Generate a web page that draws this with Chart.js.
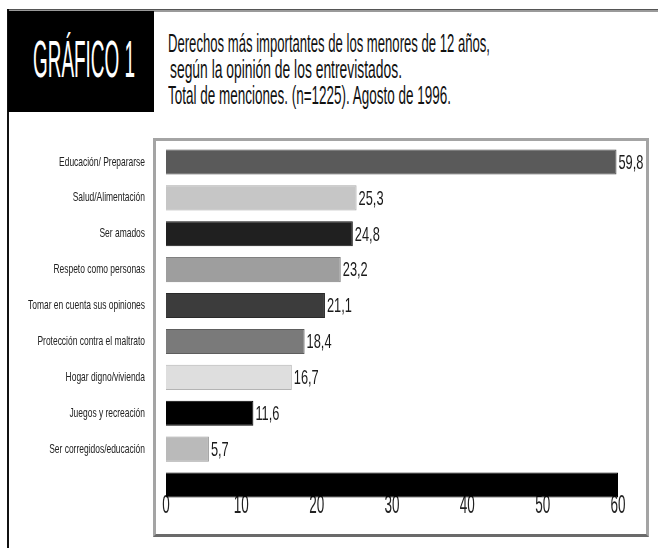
<!DOCTYPE html>
<html><head><meta charset="utf-8">
<script src="https://cdn.jsdelivr.net/npm/chart.js@4.4.1/dist/chart.umd.min.js"></script>
<style>
html,body{margin:0;padding:0;background:#fff;}
body{width:658px;height:548px;position:relative;overflow:hidden;font-family:'Liberation Sans',sans-serif;}
.abs{position:absolute;}
#topline{left:8px;top:9px;width:650px;height:3px;background:#9a9a9a;border-top:1px solid #555;box-sizing:border-box;}
#leftline{left:7px;top:9px;width:2px;height:539px;background:#111;}
#hbox{left:8px;top:11px;width:146px;height:101px;background:#000;}
#frame{left:153px;top:138px;width:496px;height:399px;box-sizing:border-box;border:3px solid #a4a4a4;border-bottom-color:#6a6a6a;}
.t{position:absolute;white-space:nowrap;transform-origin:0 0;line-height:1;color:#111;}
#wrap{position:absolute;left:0;top:0;width:658px;height:548px;}
</style></head><body>
<div id="topline" class="abs"></div>
<div id="leftline" class="abs"></div>
<div id="hbox" class="abs"></div>
<div id="frame" class="abs"></div>
<div class="t" id="h0" style="color:#fff;font-size:51px;">GRÁFICO 1</div>
<div class="t" id="l1" style="font-size:25px;">Derechos más importantes de los menores de 12 años,</div>
<div class="t" id="l2" style="font-size:25px;">según la opinión de los entrevistados.</div>
<div class="t" id="l3" style="font-size:25px;">Total de menciones. (n=1225). Agosto de 1996.</div>
<div id="wrap"><canvas id="c" width="658" height="548"></canvas></div>
<script>
const categories = [
  'Educación/ Prepararse',
  'Salud/Alimentación',
  'Ser amados',
  'Respeto como personas',
  'Tomar en cuenta sus opiniones',
  'Protección contra el maltrato',
  'Hogar digno/vivienda',
  'Juegos y recreación',
  'Ser corregidos/educación',
  ''
];
const values = [59.8, 25.3, 24.8, 23.2, 21.1, 18.4, 16.7, 11.6, 5.7, 60];
const valueLabels = ['59,8', '25,3', '24,8', '23,2', '21,1', '18,4', '16,7', '11,6', '5,7', ''];
const xTicks = [0, 10, 20, 30, 40, 50, 60];
const barColors = ['#5a5a5a', '#c6c6c6', '#202020', '#9e9e9e', '#3c3c3c', '#7a7a7a', '#dedede', '#000000', '#bababa', '#000000'];
const barBorders = ['#444444', '#a8a8a8', '#111111', '#808080', '#2a2a2a', '#5e5e5e', '#b4b4b4', '#000000', '#9a9a9a', '#000000'];

const FONT = "'Liberation Sans',sans-serif";

// fit header text (condensed typeface look)
function place(id, left, baseline, fs, targetW) {
  const el = document.getElementById(id);
  const w = el.getBoundingClientRect().width;
  el.style.top = (baseline - 0.8465 * fs) + 'px';
  el.style.left = left + 'px';
  el.style.transform = 'scaleX(' + (targetW / w) + ')';
}
place('h0', 33, 77, 51, 102);
place('l1', 168, 52, 25, 322);
place('l2', 170, 78, 25, 232);
place('l3', 168, 104, 25, 283);

// draw the axis' own label items horizontally condensed
function condenseLabels(scale, sx) {
  if (scale._condensed) return;
  scale._condensed = true;
  scale.drawLabels = function (chartArea) {
    const ctx = this.ctx;
    const items = this.getLabelItems(chartArea);
    for (const it of items) {
      const o = it.options;
      ctx.save();
      ctx.translate(o.translation[0], o.translation[1]);
      if (o.rotation) ctx.rotate(o.rotation);
      ctx.scale(sx, 1);
      ctx.font = it.font.string;
      ctx.fillStyle = o.color;
      ctx.textAlign = o.textAlign;
      ctx.textBaseline = o.textBaseline;
      const lines = Array.isArray(it.label) ? it.label : [it.label];
      lines.forEach((ln, k) => ctx.fillText(ln, 0, it.textOffset + k * it.font.lineHeight));
      ctx.restore();
    }
  };
}

const valueLabelPlugin = {
  id: 'valueLabels',
  afterDatasetsDraw(chart) {
    const ctx = chart.ctx;
    const meta = chart.getDatasetMeta(0);
    meta.data.forEach((bar, i) => {
      const t = valueLabels[i];
      if (!t) return;
      ctx.save();
      ctx.font = '21px ' + FONT;
      ctx.fillStyle = '#1a1a1a';
      ctx.textBaseline = 'middle';
      ctx.textAlign = 'left';
      ctx.translate(bar.x + 2, bar.y + 1);
      ctx.scale(0.61, 1);
      ctx.fillText(t, 0, 0);
      ctx.restore();
    });
  }
};

new Chart(document.getElementById('c'), {
  type: 'bar',
  data: {
    labels: categories,
    datasets: [{
      data: values,
      backgroundColor: barColors,
      borderColor: barBorders,
      borderWidth: 1,
      barPercentage: 0.7,
      categoryPercentage: 1
    }]
  },
  options: {
    indexAxis: 'y',
    responsive: false,
    animation: false,
    devicePixelRatio: 1,
    layout: { padding: { left: 10, right: 40, top: 144, bottom: 15 } },
    plugins: { legend: { display: false }, tooltip: { enabled: false }, title: { display: false } },
    scales: {
      x: {
        type: 'linear', min: 0, max: 60,
        afterBuildTicks: s => { s.ticks = xTicks.map(v => ({ value: v })); },
        grid: { display: false, drawTicks: false },
        border: { display: false },
        ticks: { font: { family: FONT, size: 25 }, color: '#222', padding: -11.5, maxRotation: 0, autoSkip: false },
        afterFit: s => { s.height = 30; condenseLabels(s, 0.54); }
      },
      y: {
        grid: { display: false, drawTicks: false },
        border: { display: false },
        ticks: { font: { family: FONT, size: 13 }, color: '#222', padding: 21, autoSkip: false },
        afterFit: s => { s.width = 156; condenseLabels(s, 0.65); }
      }
    }
  },
  plugins: [valueLabelPlugin]
});
</script>
</body></html>
